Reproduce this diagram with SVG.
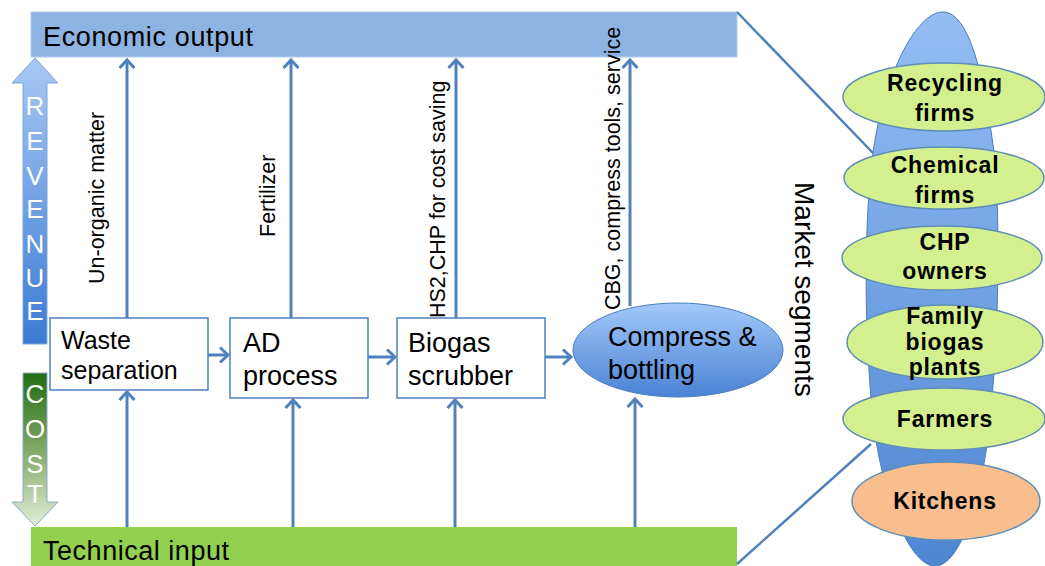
<svg xmlns="http://www.w3.org/2000/svg" width="1045" height="566" viewBox="0 0 1045 566">
<defs>
<marker id="arr" markerUnits="userSpaceOnUse" markerWidth="16" markerHeight="18" refX="9" refY="9" orient="auto">
<path d="M1,1.5 L9,9 L1,16.5" fill="none" stroke="#4F81BD" stroke-width="3"/>
</marker>
<linearGradient id="gRev" x1="0" y1="0" x2="0" y2="1">
<stop offset="0" stop-color="#A7C8F4"/>
<stop offset="1" stop-color="#3D7BD3"/>
</linearGradient>
<linearGradient id="gCost" x1="0" y1="0" x2="0" y2="1">
<stop offset="0" stop-color="#1F6E14"/>
<stop offset="0.5" stop-color="#7FA865"/>
<stop offset="1" stop-color="#E2EDD8"/>
</linearGradient>
<linearGradient id="gComp" x1="0" y1="0" x2="0" y2="1">
<stop offset="0" stop-color="#A3C8FA"/>
<stop offset="1" stop-color="#4A83D3"/>
</linearGradient>
<linearGradient id="gSpin" x1="0" y1="0" x2="0" y2="1">
<stop offset="0" stop-color="#94BDF3"/>
<stop offset="1" stop-color="#4E86D2"/>
</linearGradient>
</defs>
<style>
.t{font-family:"Liberation Sans",Arial,sans-serif;fill:#000}
.box{fill:#fff;stroke:#4F81BD;stroke-width:1.5}
.conn{stroke:#4F81BD;stroke-width:3;fill:none}
.lbl{font-family:"Liberation Sans",Arial,sans-serif;font-size:21.5px;fill:#000}
.seg{fill:#D4F08E;stroke:#5E8DB8;stroke-width:1.5}
.segt{font-family:"Liberation Sans",Arial,sans-serif;font-weight:bold;font-size:23px;fill:#000;text-anchor:middle;letter-spacing:0.8px}
.big{font-family:"Liberation Sans",Arial,sans-serif;font-size:26px;fill:#fff;text-anchor:middle}
.side{stroke:#4F81BD;stroke-width:2.5}
</style>

<g id="economic-output">
<rect x="31" y="12" width="706" height="45" fill="#8DB3E2" stroke="#B4CDED" stroke-width="1"/>
<text class="t" x="43" y="46" font-size="27" textLength="210">Economic output</text>
</g>

<g id="technical-input">
<rect x="31" y="527" width="706" height="42" fill="#92D050"/>
<text class="t" x="43" y="560" font-size="27" textLength="186">Technical input</text>
</g>

<g id="revenue-arrow">
<path d="M35,58 L58,83 L47,83 L47,344 L23,344 L23,83 L12,83 Z" fill="url(#gRev)" stroke="#7FA6DA" stroke-width="1"/>
<text class="big" x="35" y="115">R</text>
<text class="big" x="35" y="150">E</text>
<text class="big" x="35" y="185">V</text>
<text class="big" x="35" y="218">E</text>
<text class="big" x="35" y="253">N</text>
<text class="big" x="35" y="287">U</text>
<text class="big" x="35" y="320">E</text>
</g>

<g id="cost-arrow">
<path d="M23,373 L47,373 L47,502 L58,502 L35,526 L12,502 L23,502 Z" fill="url(#gCost)" stroke="#8DA9C9" stroke-width="1"/>
<text class="big" x="35" y="403">C</text>
<text class="big" x="35" y="438">O</text>
<text class="big" x="35" y="473">S</text>
<text class="big" x="35" y="503">T</text>
</g>

<g id="market-spindle">
<path d="M943,12 C915,12 882,80 872,160 C864,230 864,330 873,420 C883,500 910,566 935,566 C960,566 982,500 990,420 C999,330 1000,230 995,160 C985,80 970,12 943,12 Z" fill="url(#gSpin)" stroke="#4A7EBB" stroke-width="1"/>
</g>

<g id="connectors">
<line class="conn" x1="127" y1="318" x2="127" y2="60" marker-end="url(#arr)"/>
<line class="conn" x1="291" y1="318" x2="291" y2="60" marker-end="url(#arr)"/>
<line class="conn" x1="456" y1="318" x2="456" y2="60" marker-end="url(#arr)"/>
<line class="conn" x1="630" y1="306" x2="630" y2="60" marker-end="url(#arr)"/>
<line class="conn" x1="127" y1="527" x2="127" y2="392" marker-end="url(#arr)"/>
<line class="conn" x1="293" y1="527" x2="293" y2="400" marker-end="url(#arr)"/>
<line class="conn" x1="455" y1="527" x2="455" y2="400" marker-end="url(#arr)"/>
<line class="conn" x1="635" y1="527" x2="635" y2="399" marker-end="url(#arr)"/>
<line class="conn" x1="208" y1="355" x2="228" y2="355" marker-end="url(#arr)"/>
<line class="conn" x1="368" y1="357" x2="395" y2="357" marker-end="url(#arr)"/>
<line class="conn" x1="545" y1="357" x2="571" y2="357" marker-end="url(#arr)"/>
<line class="side" x1="737" y1="12" x2="873" y2="153"/>
<line class="side" x1="737" y1="564" x2="871" y2="444"/>
</g>

<g id="labels">
<text class="lbl" transform="translate(104,284) rotate(-90)">Un-organic matter</text>
<text class="lbl" transform="translate(275,237) rotate(-90)">Fertilizer</text>
<text class="lbl" transform="translate(445,318) rotate(-90)">HS2,CHP for cost saving</text>
<text class="lbl" transform="translate(620,310) rotate(-90)">CBG, compress tools, service</text>
<text class="t" font-size="28" transform="translate(795,182) rotate(90)">Market segments</text>
</g>

<g id="waste-separation">
<rect class="box" x="50" y="318" width="158" height="72"/>
<text class="t" x="61" y="349" font-size="25">Waste</text>
<text class="t" x="61" y="379" font-size="25">separation</text>
</g>

<g id="ad-process">
<rect class="box" x="230" y="318" width="138" height="80"/>
<text class="t" x="243" y="352" font-size="27">AD</text>
<text class="t" x="243" y="385" font-size="27">process</text>
</g>

<g id="biogas-scrubber">
<rect class="box" x="397" y="318" width="148" height="80"/>
<text class="t" x="408" y="352" font-size="27">Biogas</text>
<text class="t" x="408" y="385" font-size="27">scrubber</text>
</g>

<g id="compress-bottling">
<ellipse cx="678" cy="350" rx="105" ry="47" fill="url(#gComp)" stroke="#4A7EBB" stroke-width="1"/>
<text class="t" x="608" y="346" font-size="27">Compress &amp;</text>
<text class="t" x="608" y="379" font-size="27">bottling</text>
</g>

<g id="recycling-firms">
<ellipse class="seg" cx="944" cy="97" rx="101" ry="34"/>
<text class="segt" x="945" y="91">Recycling</text>
<text class="segt" x="945" y="121">firms</text>
</g>

<g id="chemical-firms">
<ellipse class="seg" cx="944" cy="178" rx="100" ry="31"/>
<text class="segt" x="945" y="173">Chemical</text>
<text class="segt" x="945" y="203">firms</text>
</g>

<g id="chp-owners">
<ellipse class="seg" cx="942" cy="258" rx="100" ry="32"/>
<text class="segt" x="945" y="250">CHP</text>
<text class="segt" x="945" y="279">owners</text>
</g>

<g id="family-biogas-plants">
<ellipse class="seg" cx="945" cy="342" rx="98" ry="37"/>
<text class="segt" x="945" y="324" font-size="19.5">Family</text>
<text class="segt" x="945" y="350" font-size="19.5">biogas</text>
<text class="segt" x="945" y="375" font-size="19.5">plants</text>
</g>

<g id="farmers">
<ellipse class="seg" cx="944" cy="419" rx="101" ry="31"/>
<text class="segt" x="945" y="427">Farmers</text>
</g>

<g id="kitchens">
<ellipse cx="946" cy="501" rx="94" ry="39" fill="#F9BE8E" stroke="#5E8DB8" stroke-width="1.5"/>
<text class="segt" x="945" y="509">Kitchens</text>
</g>
</svg>
